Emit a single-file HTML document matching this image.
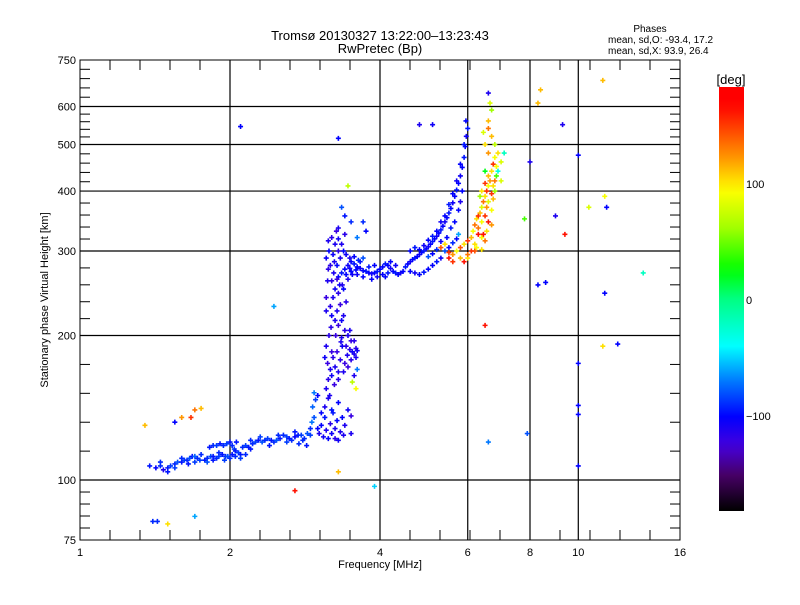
<!DOCTYPE html>
<html><head><meta charset="utf-8"><style>
body{margin:0;background:#fff;font-family:"Liberation Sans",sans-serif}
svg text{font-family:"Liberation Sans",sans-serif;fill:#000}
</style></head><body>
<svg id="c" width="800" height="600" xmlns="http://www.w3.org/2000/svg">
<rect width="800" height="600" fill="#fff"/>
<text x="380" y="40" font-size="13" text-anchor="middle">Tromsø 20130327 13:22:00–13:23:43</text>
<text x="380" y="53" font-size="13" text-anchor="middle">RwPretec (Bp)</text>
<text x="650" y="32" font-size="10" text-anchor="middle">Phases</text>
<text x="608" y="43" font-size="10">mean, sd,O: -93.4, 17.2</text>
<text x="608" y="54" font-size="10">mean, sd,X:  93.9, 26.4</text>
<g id="grid"></g>
<g id="pts"></g>
<rect x="80" y="60" width="600" height="480" fill="none" stroke="#000" stroke-width="1"/>
<g id="axes"></g>
<text x="380" y="568" font-size="11" text-anchor="middle">Frequency [MHz]</text>
<text x="48" y="300" font-size="11" text-anchor="middle" transform="rotate(-90 48 300)">Stationary phase Virtual Height [km]</text>
<defs><linearGradient id="cg" x1="0" y1="1" x2="0" y2="0"></linearGradient></defs>
<rect x="719" y="87" width="25" height="424" fill="url(#cg)"/>
<text x="731" y="84" font-size="13" text-anchor="middle">[deg]</text>
<g id="cb"></g>
</svg>
<script>
const xTicks=[1,2,4,6,8,10,16];
const yTicks=[75,100,200,300,400,500,600,750];
const cbTicks=[100,0,-100];
const freq=[1.38,1.42,1.45,1.47,1.50,1.52,1.55,1.57,1.60,1.62,1.64,1.66,1.68,1.70,1.72,1.74,1.78,1.80,1.83,1.85,1.88,1.90,1.93,1.96,1.98,2.02,2.05,2.08,2.10,
1.82,1.85,1.88,1.91,1.94,1.97,2.00,2.02,2.04,2.06,
2.12,2.15,2.18,2.22,2.25,2.28,2.32,2.35,2.38,2.42,2.45,2.48,2.52,2.56,2.60,2.63,2.66,2.7,2.74,2.78,2.82,2.86,
2.90,2.92,2.95,2.93,2.97,3.0,3.02,3.05,3.08,3.10,3.12,3.15,3.18,3.20,3.22,3.25,3.28,3.30,3.33,3.36,3.1,3.0,2.95,
3.12,3.15,3.18,3.14,3.20,3.22,3.25,3.28,3.30,3.33,3.36,3.40,3.44,3.48,3.52,3.55,3.58,3.50,3.45,3.40,3.35,3.30,3.25,3.20,3.18,3.22,3.25,3.20,3.23,3.18,3.22,3.25,3.20,3.27,3.16,3.14,3.12,3.16,3.12,3.10,3.38,3.42,3.55,3.60,3.58,3.52,
3.30,3.35,3.40,3.45,3.50,3.55,3.60,3.65,3.70,3.75,3.80,3.85,3.90,3.95,4.0,3.33,3.38,3.42,3.48,3.28,3.32,3.38,3.45,3.52,3.62,3.7,3.75,3.6,3.5,3.4,3.35,3.45,3.3,3.7,
4.05,4.1,4.15,4.2,4.25,4.3,4.35,4.4,4.45,4.5,4.55,4.6,4.65,4.7,4.75,4.8,4.85,4.9,4.95,5.0,5.05,5.1,5.15,5.2,5.25,5.3,5.35,5.4,5.45,5.5,5.55,5.6,5.65,5.7,5.75,5.8,5.85,5.9,5.93,5.96,6.0,
4.6,4.7,4.8,4.9,5.0,5.1,5.2,5.3,5.4,5.5,5.6,5.7,5.75,
5.3,5.4,5.5,5.6,5.7,5.8,5.9,6.0,6.1,6.15,6.2,6.25,6.3,6.35,6.4,6.45,6.5,6.55,6.6,6.65,6.7,6.75,6.8,6.6,6.5,6.45,6.6,6.7,6.65,6.3,6.4,6.5,6.55,6.6,6.7,6.75,6.8,7.0,7.0,7.1,6.9,6.2,6.0,5.9,5.6,5.5,6.4,6.85,6.5,
2.1,3.3,6.6,4.8,5.1,8.3,8.4,11.2,9.3,8.0,10,9.0,9.4,10.5,11.3,11.4,8.3,8.6,11.3,12,11.2,10,10,10,10,6.6,7.9,7.8,6.5,2.45,3.3,2.7,3.9,1.4,1.43,1.5,1.7,1.35,1.55,1.67,1.7,1.75,1.6,13.5,
1.45,1.5,1.55,1.6,1.65,1.7,1.75,1.8,1.85,1.9,1.95,2.0,2.05,2.1,2.15,2.2,
2.2,2.3,2.4,2.5,2.6,2.7,2.8,2.9,2.85,2.75,
3.4,3.45,3.5,3.3,3.2,3.05,3.15,3.25,3.38,3.5,
3.17,3.24,3.3,3.38,3.45,3.5,3.58,3.6,3.42,3.34,3.26,3.19,3.28,3.33,3.3,3.36,3.28,3.24,3.3,3.35,3.3,3.4,3.15,3.12,3.15,3.12,3.2,3.48,3.55,3.35,
3.5,3.6,3.7,3.8,3.9,3.55,3.65,3.42,3.48,3.58,3.85,3.95,4.05,4.1,4.15,4.2,4.3,
4.6,4.7,4.8,4.9,5.0,5.1,5.2,5.3,5.4,5.5,5.6,5.7,5.8,5.9,5.95,5.0,5.1,5.2,5.3,5.45,5.55,5.65,5.75,5.8,5.85,
6.1,6.2,6.3,6.4,6.5,6.55,6.6,6.7,6.75,6.8,6.85,6.6,6.5,6.4,6.35,6.9,6.8,6.7,6.6,6.0,5.8,6.25,6.45,6.7];
const height=[107,106,107,105,106,107,108,109,109,110,110,111,112,112,111,110,110,111,112,112,111,112,113,112,112,113,112,114,113,
117,118,118,119,118,119,120,118,116,120,
117,118,117,119,120,121,120,121,122,121,120,121,122,124,123,122,121,123,124,124,122,125,
128,132,135,142,147,128,125,130,123,135,127,122,131,125,138,128,133,121,126,135,142,150,152,
155,162,170,175,165,180,172,185,168,178,190,175,182,187,185,183,188,195,200,205,198,210,215,220,230,240,250,260,270,280,295,310,320,330,300,260,240,200,190,180,220,235,165,170,155,160,
265,270,275,280,285,282,278,276,273,272,270,269,270,272,275,290,300,295,290,280,255,250,262,268,287,290,330,320,345,355,370,410,335,345,
278,282,280,276,272,270,268,270,272,278,282,285,288,290,292,295,298,300,303,306,310,314,318,322,327,332,338,345,352,360,368,378,390,402,415,430,448,470,495,520,540,
272,270,268,271,275,280,285,290,300,305,312,318,325,
305,310,298,295,300,305,310,315,320,330,340,350,355,360,370,380,390,400,410,420,440,455,470,480,500,530,560,590,610,325,320,315,330,345,365,385,400,420,460,480,440,300,290,285,285,290,302,430,440,
545,515,640,550,550,610,650,680,550,460,475,355,325,370,390,370,255,258,245,192,190,175,143,137,107,120,125,350,210,230,104,95,97,82,82,81,84,130,132,135,140,141,135,270,
109,104,106,111,108,109,113,109,110,114,110,111,115,111,113,116,
121,123,118,124,120,126,121,124,118,119,
130,140,125,145,140,138,148,122,124,136,
150,158,162,168,172,178,180,186,190,194,200,208,225,232,245,255,262,285,300,310,318,325,315,290,275,225,185,205,195,215,
272,268,265,278,280,292,285,268,276,274,262,265,268,265,270,285,280,
300,305,302,308,316,322,330,345,355,375,395,420,455,500,560,292,296,302,314,320,335,345,365,380,400,
300,310,335,345,355,370,380,395,410,420,450,430,415,400,390,480,500,520,540,295,290,305,325,340];
const phase=[-95,-100,-90,-110,-95,-85,-90,-80,-95,-85,-90,-80,-95,-75,-90,-85,-95,-90,-80,-95,-90,-85,-95,-90,-80,-95,-90,-85,-95,
-95,-90,-85,-95,-90,-85,-95,-90,-85,-95,
-90,-85,-95,-90,-85,-95,-80,-90,-85,-95,-90,-80,-95,-90,-85,-95,-90,-100,-95,-85,-90,-80,
-90,-70,-80,-75,-85,-100,-110,-100,-105,-95,-110,-100,-115,-105,-95,-110,-100,-105,-110,-100,-110,-100,-70,
-110,-115,-110,-120,-105,-115,-110,-120,-110,-115,-105,-120,-110,-115,-105,-110,-115,-120,-110,-115,-110,-120,-110,-105,-115,-110,-105,-115,-110,-115,-105,-110,-115,-120,-100,-110,-120,-115,-110,-105,-110,-115,-110,-70,90,70,
-100,-95,-100,-105,-100,-95,-100,-105,-100,-95,-100,-105,-100,-95,-100,-110,-100,-105,-110,-100,-105,-100,-110,-105,-90,-80,-100,-70,-90,-95,-80,70,-110,-90,
-100,-95,-100,-105,-100,-95,-100,-105,-100,-95,-100,-105,-100,-95,-100,-105,-100,-95,-100,-105,-100,-95,-100,-105,-100,-95,-100,-105,-100,-95,-100,-105,-100,-95,-100,-105,-100,-95,-100,-105,-95,
-100,-105,-100,-95,-100,-100,-95,-105,-80,-100,-90,-100,-60,
140,100,150,120,90,140,100,150,110,90,130,100,150,110,80,130,100,150,90,120,100,150,90,120,100,80,110,60,80,160,90,130,100,160,90,110,60,80,80,-20,-30,140,100,160,150,160,100,40,20,
-100,-100,-110,-110,-105,110,110,110,-110,-110,-100,-110,160,80,90,-100,-100,-100,-100,-100,100,-100,-100,-100,-100,-70,-80,40,160,-60,110,160,-50,-90,-90,100,-60,110,-100,150,130,110,120,-20,
-90,-95,-85,-90,-95,-85,-90,-80,-95,-90,-85,-90,-95,-85,-90,-95,
-90,-85,-95,-90,-85,-95,-90,-85,-95,-90,
-110,-105,-110,-100,-95,-100,-110,-115,-110,-120,
-110,-120,-115,-110,-120,-115,-110,-105,-115,-110,-120,-115,-110,-120,-115,-110,-120,-110,-115,-110,-105,-115,-110,-105,-115,-110,-120,-110,-115,-105,
-100,-105,-100,-95,-100,-100,-95,-100,-105,-100,-100,-105,-100,-100,-95,-100,-105,
-100,-95,-100,-105,-100,-95,-100,-105,-100,-95,-100,-105,-100,-95,-100,-80,-100,-90,-105,-100,-95,-100,-100,-110,-100,
150,100,130,90,150,120,80,150,100,130,90,110,150,100,60,100,70,110,130,130,110,90,160,120];

const X0=80,X1=680,Y0=540,Y1=60;
function xs(f){return X0+150*Math.log2(f);}
function ys(h){return Y0-480*Math.log10(h/75);}
const stops=[[-180,[0,0,0]],[-150,[70,0,100]],[-125,[70,0,220]],[-100,[0,0,255]],[-70,[0,120,255]],[-40,[0,255,255]],[0,[0,255,130]],[25,[0,255,0]],[60,[160,255,0]],[92,[255,255,0]],[120,[255,150,0]],[150,[255,50,0]],[165,[255,0,0]],[180,[255,0,0]]];
function col(p){for(let i=0;i<stops.length-1;i++){const a=stops[i],b=stops[i+1];if(p<=b[0]){const t=Math.max(0,(p-a[0])/(b[0]-a[0]));return 'rgb('+a[1].map((v,k)=>Math.round(v+(b[1][k]-v)*t)).join(',')+')';}}return 'rgb(255,0,0)';}
const NS='http://www.w3.org/2000/svg';
function mk(tag,at,parent){const e=document.createElementNS(NS,tag);for(const k in at)e.setAttribute(k,at[k]);parent.appendChild(e);return e;}
const grid=document.getElementById('grid'),axes=document.getElementById('axes');
xTicks.forEach(t=>{const x=xs(t);
 if(t>1&&t<16){const l=mk('line',{x1:x,x2:x,y1:Y1,y2:Y0,stroke:'#000','stroke-width':1.2},grid);
 
 }
 const tx=mk('text',{x:x,y:Y0+16,'font-size':11,'text-anchor':'middle'},axes);tx.textContent=t;
 
 
});
for(let x=X0+30;x<X1;x+=30){mk('line',{x1:x,x2:x,y1:Y0,y2:Y0-10,stroke:'#000'},axes);mk('line',{x1:x,x2:x,y1:Y1,y2:Y1+10,stroke:'#000'},axes);}
yTicks.forEach((t,i)=>{const y=ys(t);
 if(t>75&&t<750){const l=mk('line',{x1:X0,x2:X1,y1:y,y2:y,stroke:'#000','stroke-width':1.2},grid);
 
 }
 const tx=mk('text',{x:X0-4,y:y+4,'font-size':11,'text-anchor':'end'},axes);tx.textContent=t;
 
 
 if(i<yTicks.length-1){const y2=ys(yTicks[i+1]);for(let k=1;k<5;k++){const yy=y+(y2-y)*k/5;mk('line',{x1:X0,x2:X0+10,y1:yy,y2:yy,stroke:'#000'},axes);mk('line',{x1:X1,x2:X1-10,y1:yy,y2:yy,stroke:'#000'},axes);}}
});
const pts=document.getElementById('pts');
for(let i=0;i<freq.length;i++){const x=xs(freq[i]),y=ys(height[i]);
 const p=mk('path',{d:`M${x-2.5} ${y}H${x+2.5}M${x} ${y-2.5}V${y+2.5}`,stroke:col(phase[i]),'stroke-width':1.6,fill:'none'},pts);
 
 
}
const g=document.getElementById('cg');
for(let p=-180;p<=180;p+=10){mk('stop',{offset:((p+180)/360),'stop-color':col(p)},g);}
const cb=document.getElementById('cb');
cbTicks.forEach(t=>{const y=300-1.16*t;const tx=mk('text',{x:746,y:y+4,'font-size':11},cb);tx.textContent=t===-100?'−100':t;
 
 });
</script>
</body></html>
